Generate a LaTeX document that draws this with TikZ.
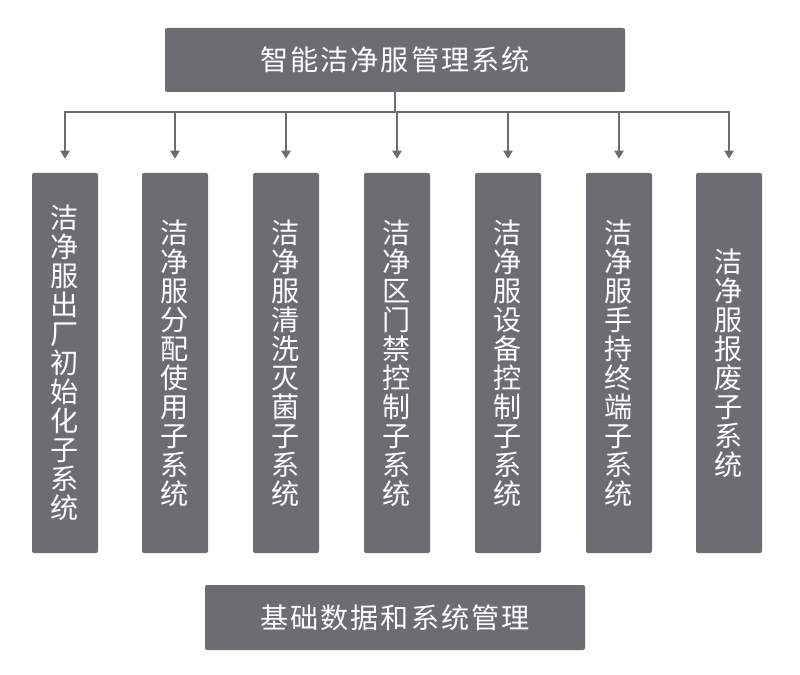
\documentclass[tikz,border=0pt]{standalone}
\usepackage{fontspec}
\newfontfamily\cjk{Noto Sans CJK SC}
\usetikzlibrary{arrows.meta}
\definecolor{boxgray}{HTML}{6D6C71}
\begin{document}
\begin{tikzpicture}[x=0.025cm,y=-0.025cm,
  box/.style={fill=boxgray,rounded corners=0.05cm,text=white,inner sep=0pt,
    font=\cjk\addfontfeature{LetterSpace=7}\fontsize{20}{24}\selectfont},
  sub/.style={fill=boxgray,rounded corners=0.05cm,text=white,inner sep=0pt,align=center,
    minimum width=66*\u,minimum height=380*\u,font=\cjk\fontsize{20}{20.6}\selectfont},
  link/.style={draw=boxgray,line width=1.4pt},
  tip/.style={-{Triangle[width=6.5pt,length=5.7pt]}}]
\def\u{0.025cm}
\useasboundingbox (0,0) rectangle (800,675);
\node[box,minimum width=460*\u,minimum height=64*\u] (top) at (395,60) {智能洁净服管理系统};
\foreach \i/\x/\t in {1/65/{洁\\净\\服\\出\\厂\\初\\始\\化\\子\\系\\统},
    2/175/{洁\\净\\服\\分\\配\\使\\用\\子\\系\\统},
    3/286/{洁\\净\\服\\清\\洗\\灭\\菌\\子\\系\\统},
    4/397/{洁\\净\\区\\门\\禁\\控\\制\\子\\系\\统},
    5/508/{洁\\净\\服\\设\\备\\控\\制\\子\\系\\统},
    6/619/{洁\\净\\服\\手\\持\\终\\端\\子\\系\\统},
    7/729/{洁\\净\\服\\报\\废\\子\\系\\统}}
  \node[sub] (s\i) at (\x,363) {\t};
\node[box,minimum width=380*\u,minimum height=65*\u] (base) at (395,617.5) {基础数据和系统管理};
\coordinate (bus) at (395,112);
\draw[link] (top.south) -- (bus);
\draw[link,line cap=rect] (bus -| s1) -- (bus -| s7);
\foreach \i in {1,...,7}
  \draw[link,tip,shorten >=14*\u] (bus -| s\i) -- (s\i.north);
\end{tikzpicture}
\end{document}
